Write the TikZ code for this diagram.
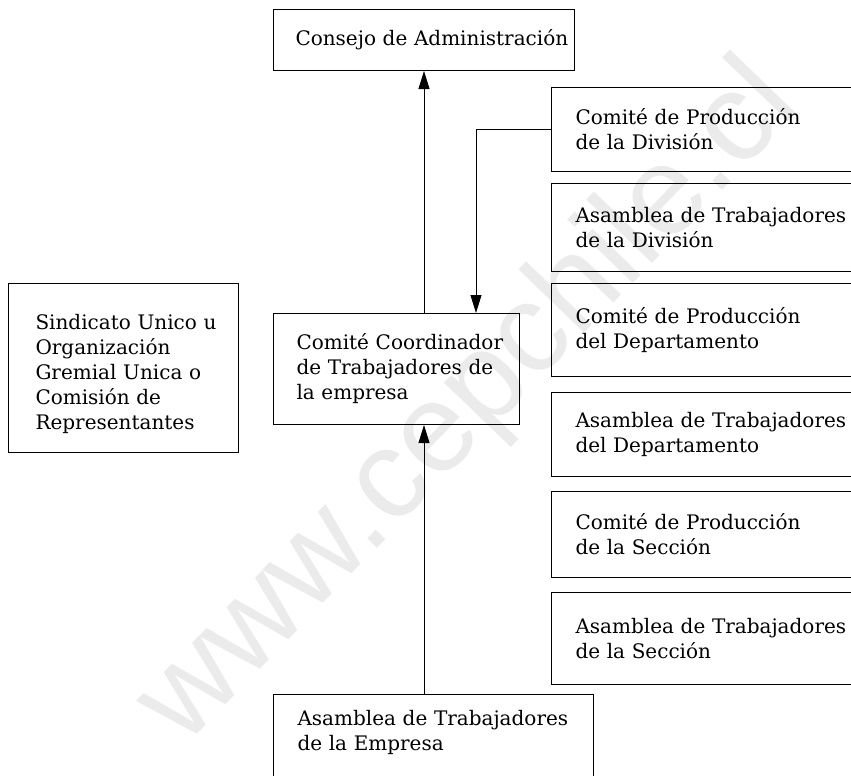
\documentclass[tikz,border=0pt]{standalone}
\usepackage{fontspec}
\setmainfont{DejaVu Serif}
\newfontfamily\wmfont{Liberation Sans}
\usetikzlibrary{arrows.meta}
\begin{document}
\begin{tikzpicture}[x=1pt,y=-1pt,
  box/.style={draw, line width=1.0pt, anchor=north west, align=left,
    inner ysep=0pt, font=\fontsize{20}{25}\selectfont},
  conn/.style={line width=0.9pt, -{Triangle[length=18pt,width=11pt]}},
  wmark/.style={text=black!8, font=\wmfont\fontsize{126}{126}\selectfont}]
\clip (0,0) rectangle (851,776);
\fill[white] (0,0) rectangle (851,776);
% watermark
\node[wmark, rotate=46] (wm) at (470,405) {www.cepchile.cl};
% boxes
\node[box, minimum width=301pt, minimum height=61pt, inner xsep=22pt, text width=257pt] (cons) at (273,9) {\mbox{Consejo de Administración}};
\node[box, minimum width=230pt, minimum height=169pt, inner xsep=27pt, text width=176pt, text height=28pt] (sind) at (8,283)
  {\mbox{Sindicato Unico u}\\\mbox{Organización}\\\mbox{Gremial Unica o}\\\mbox{Comisión de}\\\mbox{Representantes}};
\node[box, minimum width=246pt, minimum height=111pt, inner xsep=23pt, text width=200pt] (coord) at (273,313)
  {\mbox{Comité Coordinador}\\\mbox{de Trabajadores de}\\\mbox{la empresa}};
\node[box, minimum width=320pt, minimum height=84pt, inner xsep=24pt, text width=272pt] (r1) at (551,87)
  {Comité de Producción\\de la División};
\node[box, minimum width=320pt, minimum height=88pt, inner xsep=24pt, text width=272pt] (r2) at (551,183)
  {Asamblea de Trabajadores\\de la División};
\node[box, minimum width=320pt, minimum height=93pt, inner xsep=24pt, text width=272pt] (r3) at (551,283)
  {Comité de Producción\\del Departamento};
\node[box, minimum width=320pt, minimum height=84pt, inner xsep=24pt, text width=272pt] (r4) at (551,392)
  {Asamblea de Trabajadores\\del Departamento};
\node[box, minimum width=320pt, minimum height=86pt, inner xsep=24pt, text width=272pt] (r5) at (551,491)
  {Comité de Producción\\de la Sección};
\node[box, minimum width=320pt, minimum height=92pt, inner xsep=24pt, text width=272pt] (r6) at (551,592)
  {Asamblea de Trabajadores\\de la Sección};
\node[box, minimum width=320pt, inner xsep=24pt, inner ysep=16pt, text width=272pt, text depth=60pt] (emp) at (273,694)
  {\mbox{Asamblea de Trabajadores}\\de la Empresa};
% connectors
\coordinate (xa) at (424,0);
\coordinate (xb) at (476,0);
\draw[conn] (xa |- coord.north) -- (xa |- cons.south);
\draw[conn] (xa |- emp.north) -- (xa |- coord.south);
\draw[conn] (r1.west) -| (xb |- coord.north);
\end{tikzpicture}
\end{document}
